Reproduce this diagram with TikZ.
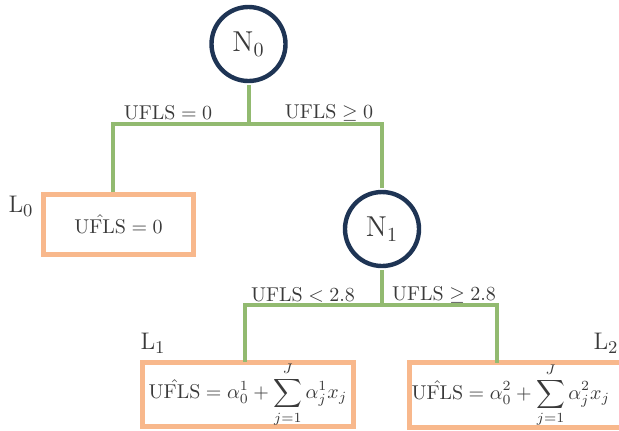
\documentclass[tikz,border=0pt]{standalone}
\usepackage{amsmath, amssymb}
\usepackage{xcolor}
\usetikzlibrary{positioning}

\definecolor{navy}{RGB}{30,52,84}
\definecolor{stemgreen}{RGB}{146,186,112}
\definecolor{peach}{RGB}{248,184,140}
\definecolor{ink}{RGB}{58,58,58}

\begin{document}
\begin{tikzpicture}[x=0.5pt, y=-0.5pt,
    treenode/.style={circle, draw=navy, line width=2.2pt, minimum size=37pt, inner sep=0pt, text=ink, font=\fontsize{14}{16}\selectfont},
    leaf/.style={rectangle, draw=peach, line width=2.5pt, minimum height=30pt, inner sep=0pt, text=ink},
    branch/.style={stemgreen, line width=2pt},
    cond/.style={text=ink},
    tag/.style={text=ink, font=\fontsize{13}{15}\selectfont}]
    \useasboundingbox (0,0) rectangle (619,430);

    % split nodes
    \node[treenode] (N0) at (248.5,44) {$\mathrm{N}_0$};
    \node[treenode] (N1) at (382,229) {$\mathrm{N}_1$};

    % leaves (the last one runs off the right edge)
    \node[leaf, minimum width=75pt] (L0) at (118.5,224.5) {$\hat{\mathrm{UFLS}} = 0$};
    \node[leaf, minimum width=105.5pt] (L1) at (248,394.5) {$\displaystyle \hat{\mathrm{UFLS}} = \alpha_0^1 + \sum_{j=1}^{J} \alpha_j^1 x_j$};
    \node[leaf, minimum width=107pt, text width=101pt, align=left] (L2) at (516.5,395) {\hspace{-2pt}$\displaystyle \hat{\mathrm{UFLS}} = \alpha_0^2 + \sum_{j=1}^{J} \alpha_j^2 x_j$};

    \node[tag] (t0) at (21,206) {$\mathrm{L}_0$};
    \node[tag] (t1) at (153,343) {$\mathrm{L}_1$};
    \node[tag] (t2) at (606,343) {$\mathrm{L}_2$};

    % junctions and drop points
    \coordinate (J0) at (248.5,124);
    \coordinate (J1) at (382,305);
    \coordinate (D0) at (113,192);
    \coordinate (D1) at (245,362);
    \coordinate (D2) at (497,363);

    \draw[branch, shorten <=1pt] (N0) -- (J0);
    \draw[branch, shorten >=1pt] (D0) |- (J0) -| (N1);
    \draw[branch, shorten <=1pt] (N1) -- (J1);
    \draw[branch] (D1) |- (J1) -| (D2);

    % split conditions
    \node[cond] (c0) at (168,113) {$\mathrm{UFLS} = 0$};
    \node[cond] (c1) at (329,113) {$\mathrm{UFLS} \geq 0$};
    \node[cond] (c2) at (303,295) {$\mathrm{UFLS} < 2.8$};
    \node[cond] (c3) at (444,295) {$\mathrm{UFLS} \geq 2.8$};
\end{tikzpicture}
\end{document}
